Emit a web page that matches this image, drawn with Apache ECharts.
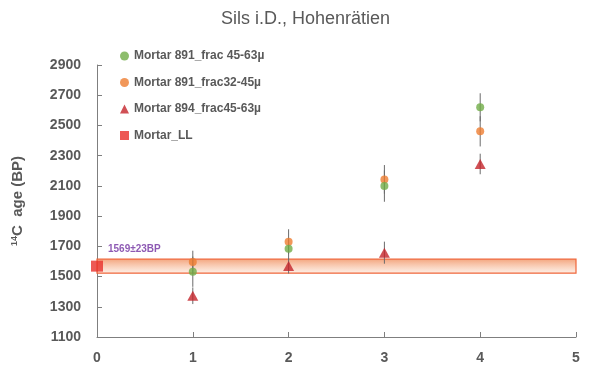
<!DOCTYPE html>
<html><head><meta charset="utf-8">
<script src="https://cdn.jsdelivr.net/npm/echarts@6/dist/echarts.min.js"></script>
<style>html,body{margin:0;padding:0;background:#fff}#c{width:589px;height:368px}</style>
</head><body><div id="c"></div>
<script>
const xTicks = [0, 1, 2, 3, 4, 5];
const sampleX = [1, 2, 3, 4];
const green891Vals = [1532, 1684, 2099, 2620];
const green891Err = [100, 70, 104, 93];
const orange891Vals = [1596, 1731, 2143, 2461];
const orange891Err = [75, 82, 95, 100];
const red894Vals = [1373, 1570, 1658, 2245];
const red894Err = [55, 50, 73, 68];
const llX = 0;
const llVal = 1569;
const llErr = 23;
const llBandLow = 1523;
const llBandHigh = 1615;
const llBandEndX = 5.07;
const names = ['Mortar 891_frac 45-63\u00b5', 'Mortar 891_frac32-45\u00b5', 'Mortar 894_frac45-63\u00b5', 'Mortar_LL'];

const gray = '#595959';
const font = 'Liberation Sans';

function pts(vals){ return sampleX.map((x,i)=>[x, vals[i]]); }
function errData(vals, errs){ return sampleX.map((x,i)=>[x, vals[i]-errs[i], vals[i]+errs[i]]); }
function errSeries(vals, errs){
  return {
    type:'custom', silent:true, z:1,
    data: errData(vals, errs),
    renderItem: function(params, api){
      const a = api.coord([api.value(0), api.value(1)]);
      const b = api.coord([api.value(0), api.value(2)]);
      return {type:'line', shape:{x1:a[0], y1:a[1], x2:b[0], y2:b[1]}, style:{stroke:'#6b6b6b', lineWidth:1}};
    }
  };
}

const chart = echarts.init(document.getElementById('c'));
chart.setOption({
  animation:false,
  backgroundColor:'#fff',
  title:{text:'Sils i.D., Hohenr\u00e4tien', left:216, top:5,
    textStyle:{fontFamily:font, fontSize:18, fontWeight:'normal', color:gray}},
  legend:{orient:'vertical', left:115, top:45, itemWidth:9, itemHeight:9, itemGap:14.5,
    data:names, textStyle:{fontFamily:font, fontSize:12, fontWeight:'bold', color:gray}},
  grid:{left:97, right:13, top:65, bottom:31},
  xAxis:{type:'value', min:0, max:5, interval:1,
    axisLine:{lineStyle:{color:'#7f7f7f', width:1}},
    axisTick:{inside:true, length:5, lineStyle:{color:'#7f7f7f'}},
    splitLine:{show:false},
    axisLabel:{margin:14, fontFamily:font, fontSize:14, fontWeight:'bold', color:gray}},
  yAxis:{type:'value', min:1100, max:2900, interval:200,
    name:'{sup|14}C  age (BP)', nameLocation:'middle', nameGap:72, nameRotate:90,
    nameTextStyle:{fontFamily:font, fontSize:15, fontWeight:'bold', color:gray,
      rich:{sup:{fontFamily:font, fontSize:9, fontWeight:'bold', color:gray, verticalAlign:'top', padding:[0,0,6,0]}}},
    axisLine:{show:true, lineStyle:{color:'#7f7f7f', width:1}},
    axisTick:{show:true, inside:true, length:5, lineStyle:{color:'#7f7f7f'}},
    splitLine:{show:false},
    axisLabel:{margin:16, fontFamily:font, fontSize:14, fontWeight:'bold', color:gray,
      formatter: v => String(v)}},
  series:[
    errSeries(green891Vals, green891Err),
    errSeries(orange891Vals, orange891Err),
    errSeries(red894Vals, red894Err),
    {name:names[3], type:'scatter', z:5, symbol:'rect', symbolSize:[12,11], clip:false,
      itemStyle:{color:'#e8302a'},
      data:[[llX, llVal]],
      label:{show:true, position:'right', distance:5, offset:[0,-17],
        formatter: llVal + '\u00b1' + llErr + 'BP',
        fontFamily:font, fontSize:10, fontWeight:'bold', color:'#7030a0'},
      markArea:{silent:true,
        itemStyle:{color:{type:'linear', x:0, y:0, x2:0, y2:1, colorStops:[
          {offset:0, color:'rgba(240,140,90,0.8)'},{offset:1, color:'rgba(253,232,218,0.6)'}]},
          borderColor:'#f0663a', borderWidth:1.2},
        data:[[{coord:[0, llBandHigh]},{coord:[llBandEndX, llBandLow]}]]}},
    {name:names[1], type:'scatter', z:3, symbol:'circle', symbolSize:8,
      itemStyle:{color:'#ed7d31'}, data:pts(orange891Vals)},
    {name:names[0], type:'scatter', z:4, symbol:'circle', symbolSize:8,
      itemStyle:{color:'#70ad47'}, data:pts(green891Vals)},
    {name:names[2], type:'scatter', z:4, symbol:'triangle', symbolSize:[11,10],
      itemStyle:{color:'#c4242b'}, data:pts(red894Vals)}
  ]
});
</script></body></html>
